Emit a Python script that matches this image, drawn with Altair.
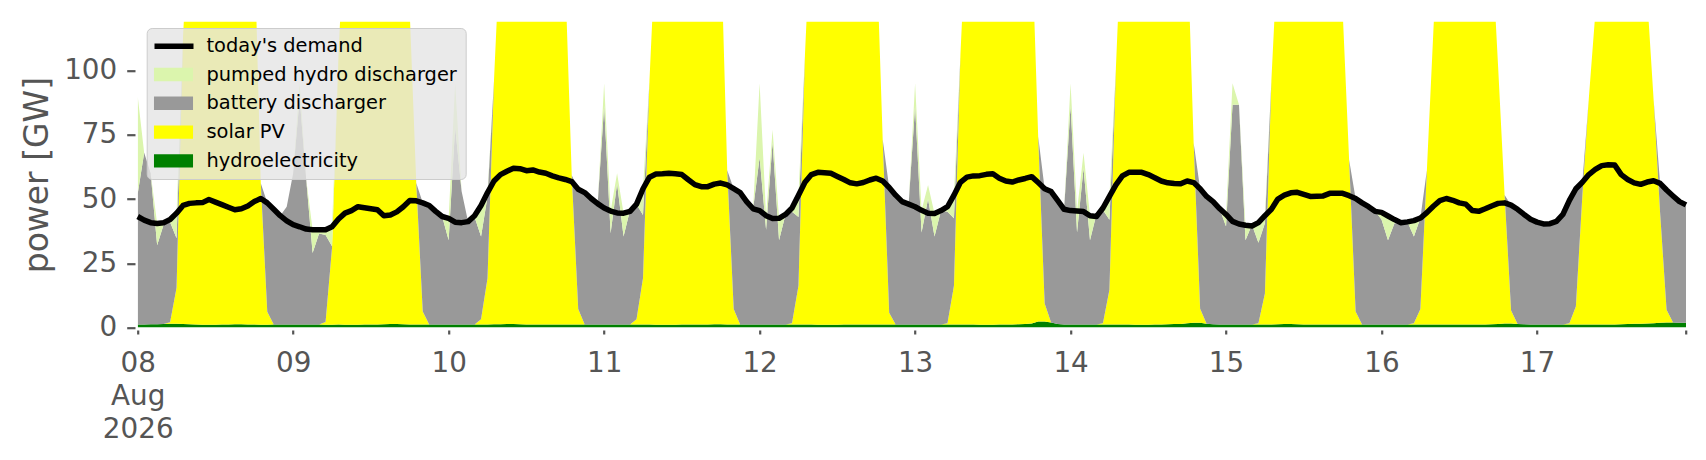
import altair as alt
import pandas as pd

# ---------------- data (hourly, 08 Aug 2026 00:00 .. 17 Aug 2026 23:00) ----------------
demand = [
    43.2, 41.8, 40.8, 40.5, 40.8, 42.0, 44.5, 47.5, 48.3, 48.5, 48.6, 49.8, 48.8, 47.8, 46.8, 45.8, 46.2, 47.3, 49.0, 50.2, 48.5, 46.0, 43.5, 41.5,
    40.0, 39.2, 38.3, 38.0, 38.0, 38.0, 39.2, 42.2, 44.5, 45.5, 47.0, 46.6, 46.2, 45.8, 43.5, 43.8, 45.0, 47.0, 49.4, 49.3, 48.5, 47.5, 45.2, 43.2,
    42.5, 41.0, 40.8, 41.2, 43.5, 47.5, 52.5, 57.0, 59.5, 60.8, 62.0, 61.8, 61.0, 61.3, 60.5, 60.0, 59.0, 58.2, 57.6, 56.8, 53.8, 52.5, 50.2, 48.2,
    46.5, 45.3, 44.6, 44.5, 45.2, 48.0, 54.0, 58.5, 59.7, 59.8, 60.0, 59.8, 59.5, 57.5, 55.6, 54.8, 54.8, 55.8, 56.2, 55.5, 54.0, 52.5, 49.0, 46.2,
    45.5, 43.5, 42.4, 42.5, 44.0, 46.5, 51.5, 56.5, 59.5, 60.4, 60.2, 60.0, 58.8, 57.6, 56.3, 55.9, 56.4, 57.4, 58.1, 57.0, 54.5, 51.5, 49.0, 48.0,
    47.0, 45.6, 44.5, 44.4, 45.5, 47.0, 51.5, 56.5, 58.5, 59.0, 59.1, 59.6, 59.8, 58.1, 57.0, 56.6, 57.4, 58.0, 58.7, 56.4, 54.0, 52.9, 49.5, 46.0,
    45.5, 45.3, 45.1, 43.5, 43.2, 46.5, 51.0, 55.5, 59.0, 60.4, 60.4, 60.4, 59.5, 58.3, 57.0, 56.3, 56.0, 55.9, 57.0, 56.4, 54.0, 51.0, 49.0, 46.3,
    44.0, 41.3, 40.3, 39.8, 39.5, 40.8, 43.5, 46.0, 50.0, 51.5, 52.4, 52.6, 51.8, 51.0, 51.1, 51.2, 52.2, 52.2, 52.2, 51.3, 50.2, 48.5, 47.0, 45.2,
    44.8, 43.4, 42.0, 40.8, 41.1, 41.6, 42.6, 44.7, 47.2, 49.4, 50.2, 49.5, 48.5, 48.0, 45.5, 45.2, 46.2, 47.3, 48.3, 48.5, 47.6, 46.0, 44.0, 42.1,
    41.0, 40.3, 40.4, 41.3, 44.0, 49.5, 54.0, 56.5, 59.5, 61.5, 63.0, 63.3, 63.2, 59.5, 57.6, 56.3, 55.7, 56.6, 57.1, 56.1, 53.5, 51.2, 49.0, 47.7,
]

hydro = [
    1.2, 1.2, 1.3, 1.3, 1.4, 1.5, 1.5, 1.4, 1.3, 1.2, 1.1, 1.1, 1.1, 1.2, 1.2, 1.3, 1.3, 1.2, 1.2, 1.1, 1.1, 1.2, 1.2, 1.2,
    1.2, 1.2, 1.2, 1.2, 1.2, 1.1, 1.1, 1.2, 1.1, 1.1, 1.1, 1.2, 1.2, 1.2, 1.3, 1.4, 1.4, 1.3, 1.2, 1.2, 1.2, 1.2, 1.2, 1.2,
    1.2, 1.2, 1.2, 1.2, 1.2, 1.2, 1.2, 1.3, 1.3, 1.4, 1.4, 1.3, 1.2, 1.2, 1.2, 1.2, 1.2, 1.2, 1.2, 1.2, 1.2, 1.2, 1.2, 1.2,
    1.2, 1.2, 1.2, 1.2, 1.2, 1.2, 1.2, 1.2, 1.1, 1.1, 1.1, 1.1, 1.2, 1.2, 1.2, 1.2, 1.2, 1.3, 1.3, 1.2, 1.2, 1.2, 1.2, 1.2,
    1.2, 1.2, 1.2, 1.2, 1.2, 1.2, 1.2, 1.2, 1.2, 1.1, 1.1, 1.1, 1.1, 1.2, 1.2, 1.2, 1.2, 1.2, 1.2, 1.2, 1.2, 1.2, 1.2, 1.2,
    1.2, 1.2, 1.2, 1.2, 1.2, 1.2, 1.2, 1.2, 1.2, 1.2, 1.1, 1.1, 1.1, 1.2, 1.2, 1.2, 1.3, 1.4, 1.6, 2.3, 2.3, 1.9, 1.4, 1.2,
    1.2, 1.2, 1.2, 1.2, 1.2, 1.2, 1.2, 1.2, 1.2, 1.2, 1.1, 1.1, 1.1, 1.2, 1.2, 1.3, 1.4, 1.4, 1.7, 1.8, 1.8, 1.5, 1.3, 1.2,
    1.2, 1.2, 1.2, 1.2, 1.2, 1.2, 1.2, 1.2, 1.3, 1.4, 1.4, 1.3, 1.2, 1.2, 1.2, 1.2, 1.2, 1.2, 1.2, 1.2, 1.2, 1.2, 1.2, 1.2,
    1.2, 1.2, 1.2, 1.2, 1.2, 1.2, 1.2, 1.2, 1.2, 1.2, 1.2, 1.2, 1.2, 1.2, 1.2, 1.2, 1.2, 1.3, 1.4, 1.6, 1.6, 1.4, 1.3, 1.2,
    1.2, 1.2, 1.2, 1.2, 1.2, 1.2, 1.2, 1.2, 1.2, 1.2, 1.2, 1.2, 1.2, 1.3, 1.4, 1.5, 1.5, 1.6, 1.7, 1.8, 1.9, 1.9, 1.8, 1.8,
]

solar = [
    0, 0, 0, 0, 0, 0.5, 14, 112, 160, 190, 210, 222, 225, 220, 208, 192, 175, 162, 150, 55, 5, 0, 0, 0,
    0, 0, 0, 0, 0, 1, 30, 105, 160, 188, 205, 215, 218, 212, 200, 185, 168, 150, 121, 55, 5, 0, 0, 0,
    0, 0, 0, 0, 0, 2, 18, 95, 150, 185, 205, 215, 218, 212, 200, 185, 170, 155, 135, 58, 6, 0, 0, 0,
    0, 0, 0, 0, 0, 2, 18, 95, 150, 185, 205, 215, 218, 212, 200, 188, 175, 162, 150, 60, 6, 0, 0, 0,
    0, 0, 0, 0, 0, 0.5, 15, 105, 160, 190, 210, 220, 222, 218, 205, 190, 175, 162, 149, 72, 4.5, 0, 0, 0,
    0, 0, 0, 0, 0, 0.5, 15, 105, 160, 190, 210, 220, 222, 218, 205, 190, 175, 162, 150, 72, 7, 0, 0, 0,
    0, 0, 0, 0, 0, 0.5, 13.5, 100, 160, 188, 208, 218, 220, 215, 203, 190, 175, 162, 150, 70, 5.5, 0, 0, 0,
    0, 0, 0, 0, 0, 0.5, 12, 95, 146, 175, 195, 205, 208, 202, 190, 175, 158, 140, 122, 64, 5, 0, 0, 0,
    0, 0, 0, 0, 0, 0.5, 6, 60, 114, 168, 190, 200, 202, 198, 188, 172, 158, 148, 100, 50, 5, 0, 0, 0,
    0, 0, 0, 0, 0, 0.5, 7, 50, 88, 121, 160, 185, 198, 200, 195, 182, 160, 127, 87, 43, 5, 0, 0, 0,
]

battery = [
    50.8, 66.8, 58.7, 30.7, 38.6, 39.0, 19.2, 0, 0, 0, 0, 0, 0, 0, 0, 0, 0, 0, 0, 0, 42.4, 44.8, 42.3, 45.8,
    58.8, 88.0, 56.8, 27.8, 35.4, 33.9, 0.5, 0, 0, 0, 0, 0, 0, 0, 0, 0, 0, 0, 0, 0, 42.3, 46.3, 44.0, 42.0,
    32.8, 76.8, 51.8, 40.0, 41.8, 32.2, 31.8, 0, 0, 0, 0, 0, 0, 0, 0, 0, 0, 0, 0, 0, 46.6, 51.3, 49.0, 47.0,
    85.0, 35.5, 54.8, 34.2, 44.5, 44.8, 24.6, 0, 0, 0, 0, 0, 0, 0, 0, 0, 0, 0, 0, 0, 46.8, 51.3, 47.8, 45.0,
    65.0, 36.8, 70.8, 32.8, 42.8, 43.3, 26.8, 0, 0, 0, 0, 0, 0, 0, 0, 0, 0, 0, 0, 0, 48.8, 50.3, 47.8, 46.8,
    85.0, 35.8, 48.8, 34.2, 44.3, 43.3, 26.3, 0, 0, 0, 0, 0, 0, 0, 0, 0, 0, 0, 0, 0, 44.7, 51.0, 48.1, 44.8,
    85.0, 35.8, 60.8, 32.8, 43.0, 44.0, 27.2, 0, 0, 0, 0, 0, 0, 0, 0, 0, 0, 0, 0, 0, 46.7, 49.5, 47.7, 45.1,
    38.1, 85.5, 85.5, 32.8, 38.8, 31.3, 27.4, 0, 0, 0, 0, 0, 0, 0, 0, 0, 0, 0, 0, 0, 44.0, 47.3, 45.8, 44.0,
    40.8, 32.8, 39.4, 39.6, 39.9, 33.7, 35.4, 0, 0, 0, 0, 0, 0, 0, 0, 0, 0, 0, 0, 0, 41.0, 44.6, 42.7, 40.9,
    39.8, 39.1, 39.2, 40.1, 42.8, 47.8, 45.8, 5.3, 0, 0, 0, 0, 0, 0, 0, 0, 0, 0, 0, 11.3, 46.6, 49.3, 47.2, 45.9,
]

pumped = [
    38.0, 0, 0, 8.5, 0.8, 1.0, 9.8, 0, 0, 0, 0, 0, 0, 0, 0, 0, 0, 0, 0, 0, 0, 0, 0, 0,
    0, 5.8, 0, 9.0, 1.4, 2.0, 7.6, 0, 0, 0, 0, 0, 0, 0, 0, 0, 0, 0, 0, 0, 0, 0, 0, 0,
    8.5, 17.0, 0, 0, 0.5, 12.1, 1.5, 0, 0, 0, 0, 0, 0, 0, 0, 0, 0, 0, 0, 0, 0, 0, 0, 0,
    8.8, 8.6, 4.0, 9.1, 0, 0, 10.2, 0, 0, 0, 0, 0, 0, 0, 0, 0, 0, 0, 0, 0, 0, 0, 0, 0,
    28.8, 5.5, 5.0, 8.5, 0, 1.5, 8.5, 0, 0, 0, 0, 0, 0, 0, 0, 0, 0, 0, 0, 0, 0, 0, 0, 0,
    8.8, 8.6, 5.5, 9.0, 0, 2.0, 9.0, 0, 0, 0, 0, 0, 0, 0, 0, 0, 0, 0, 0, 0, 0, 0, 0, 0,
    8.8, 8.3, 6.0, 9.5, 0, 0.8, 9.1, 0, 0, 0, 0, 0, 0, 0, 0, 0, 0, 0, 0, 0, 0, 0, 0, 0,
    4.7, 8.3, 0, 5.8, 0, 7.8, 2.9, 0, 0, 0, 0, 0, 0, 0, 0, 0, 0, 0, 0, 0, 0, 0, 0, 0,
    2.8, 9.4, 1.4, 0, 0, 6.2, 0, 0, 0, 0, 0, 0, 0, 0, 0, 0, 0, 0, 0, 0, 0, 0, 0, 0,
    0, 0, 0, 0, 0, 0, 0, 0, 0, 0, 0, 0, 0, 0, 0, 0, 0, 0, 0, 0, 0, 0, 0, 0,
]

demand_name = "today's demand"
stack_names = ["hydroelectricity", "solar PV", "battery discharger", "pumped hydro discharger"]
stack_values = [hydro, solar, battery, pumped]
legend_names = [demand_name, "pumped hydro discharger", "battery discharger", "solar PV", "hydroelectricity"]
legend_colors = ["transparent", "#dbf5ad", "#999999", "#ffff00", "#008000"]
first_label_lines = ["08", "Aug", "2026"]
y_ticks = [0, 25, 50, 75, 100]
y_max = 119

times = pd.date_range("2026-08-08 00:00", periods=len(demand), freq="h")
tstr = [t.strftime("%Y-%m-%dT%H:%M:%SZ") for t in times]

rows = []
for k, (name, vals) in enumerate(zip(stack_names, stack_values)):
    for t, v in zip(tstr, vals):
        rows.append({"time": t, "source": name, "power": v, "ord": k})
area_df = pd.DataFrame(rows)
line_df = pd.DataFrame({"time": tstr, "power": demand, "kind": demand_name})

GREY = "#555555"
FONT = "DejaVu Sans"

x_values = [alt.DateTime(year=2026, month=8, date=d, hours=0, utc=True) for d in range(8, 18)]
x_values.append(alt.DateTime(year=2026, month=8, date=17, hours=23, utc=True))
first_label_expr = "[" + ", ".join("'%s'" % s for s in first_label_lines) + "]"
label_expr = (
    "utcFormat(datum.value, '%H') != '00' ? '' : "
    "(utcFormat(datum.value, '%d') == '08' ? " + first_label_expr + " : utcFormat(datum.value, '%d'))"
)

x_scale = alt.Scale(
    type="utc",
    domain=[alt.DateTime(year=2026, month=8, date=8, hours=0, utc=True),
            alt.DateTime(year=2026, month=8, date=17, hours=23, utc=True)],
    nice=False,
    padding=0,
)
x_axis = alt.Axis(
    values=x_values, labelExpr=label_expr, title=None,
    labelFont=FONT, labelFontSize=27.8, labelColor=GREY, labelLineHeight=33.3,
    labelPadding=15, labelAlign="center", labelBaseline="top",
    labelFlush=False, labelOverlap=False,
    tickSize=4, tickWidth=2.2, tickColor=GREY, domain=False, grid=False, offset=2.5,
)
y_scale = alt.Scale(domain=[0, y_max], nice=False, zero=True)
y_axis = alt.Axis(
    values=y_ticks, title="power [GW]",
    labelFont=FONT, labelFontSize=27.8, labelColor=GREY, labelPadding=10, labelFlush=False,
    tickSize=8.3, tickWidth=2.2, tickColor=GREY, domain=False, grid=False, offset=2.7,
    titleFont=FONT, titleFontSize=33, titleColor=GREY, titleFontWeight="normal",
    titleAngle=270, titleX=-97.8, titleY=152.9, titleAlign="center", titleBaseline="middle",
)

area = alt.Chart(area_df).mark_area(clip=True, opacity=1, interpolate="linear").encode(
    x=alt.X("time:T", scale=x_scale, axis=x_axis),
    y=alt.Y("power:Q", stack="zero", scale=y_scale, axis=y_axis),
    fill=alt.Fill(
        "source:N",
        scale=alt.Scale(domain=legend_names, range=legend_colors),
        legend=alt.Legend(
            orient="none", legendX=9, legendY=6.3, title=None, direction="vertical",
            symbolType="M-2.91,-1H2.91V1H-2.91Z", symbolSize=180, symbolStrokeWidth=0,
            symbolOpacity=1, symbolOffset=9.1, labelOffset=23.3,
            labelFont=FONT, labelFontSize=19.4, labelColor="black", labelLimit=600,
            rowPadding=7.8, padding=8,
            fillColor="rgba(229,229,229,0.8)", strokeColor="#cccccc", cornerRadius=5,
            zindex=1,
        ),
    ),
    order=alt.Order("ord:Q", sort="ascending"),
)

line = alt.Chart(line_df).mark_line(strokeWidth=5.5, strokeJoin="round").encode(
    x=alt.X("time:T", scale=x_scale, axis=x_axis),
    y=alt.Y("power:Q", scale=y_scale, axis=y_axis),
    stroke=alt.Stroke(
        "kind:N",
        scale=alt.Scale(domain=[demand_name], range=["black"]),
        legend=alt.Legend(
            orient="none", legendX=9, legendY=-6.0, title=None,
            symbolType="stroke", symbolSize=1521, symbolStrokeWidth=5.5, symbolOffset=-3.2,
            labelExpr="''", labelFontSize=19.4, padding=8, zindex=2,
        ),
    ),
)

chart = alt.layer(area, line).resolve_legend(fill="independent", stroke="independent").properties(
    width=1548.3,
    height=305.8,
    padding={"left": 129.7, "top": 13.7, "right": 10, "bottom": 120},
    autosize=alt.AutoSizeParams(type="none"),
    background="white",
).configure(font=FONT).configure_view(stroke=None)

chart.save("out.html", embed_options={"renderer": "svg", "actions": False})
